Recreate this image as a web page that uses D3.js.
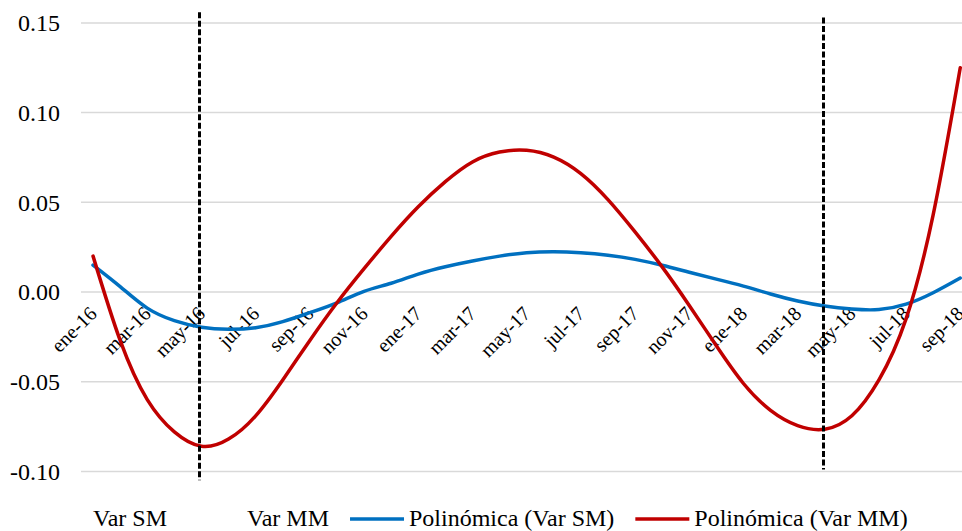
<!DOCTYPE html>
<html>
<head>
<meta charset="utf-8">
<script src="https://cdn.jsdelivr.net/npm/d3@7/dist/d3.min.js"></script>
<style>
  html, body { margin: 0; padding: 0; background: #fff; }
  svg { display: block; font-family: "Liberation Serif", "Times New Roman", serif; }
</style>
</head>
<body>
<svg id="chart" width="962" height="531"></svg>
<script>
// Categories: monthly, ene-16 .. sep-18
const monthNames = ['ene', 'feb', 'mar', 'abr', 'may', 'jun', 'jul', 'ago', 'sep', 'oct', 'nov', 'dic'];
const years = ['16', '17', '18'];
const months = [];
years.forEach(y => monthNames.forEach(m => months.push(`${m}-${y}`)));
const categories = months.slice(0, 33);

// Polinómica (Var SM) - blue trend
const polySM = [
  0.015, 0.003, -0.009, -0.016, -0.0197, -0.0208, -0.0199, -0.0165, -0.0115, -0.006,
  0.0004, 0.0049, 0.010, 0.0141, 0.0173, 0.0200, 0.0219, 0.0225, 0.0219, 0.0205,
  0.0182, 0.0149, 0.011, 0.0072, 0.0033, -0.0011, -0.0050, -0.0078, -0.0095, -0.0098,
  -0.0068, -0.0004, 0.0078
];

// Polinómica (Var MM) - red trend
const polyMM = [
  0.020, -0.027, -0.060, -0.078, -0.086, -0.082, -0.069, -0.049, -0.027, -0.006,
  0.013, 0.031, 0.0475, 0.0615, 0.0725, 0.078, 0.079, 0.0752, 0.066, 0.0515,
  0.0335, 0.014, -0.0075, -0.030, -0.051, -0.066, -0.0745, -0.0765, -0.069, -0.049,
  -0.015, 0.043, 0.125
];

// Vertical dashed markers
const markers = [
  { cat: 'may-16', top: 0.156, bottom: -0.105 },
  { cat: 'abr-18', top: 0.153, bottom: -0.099 }
];

const yTicks = [-0.10, -0.05, 0.00, 0.05, 0.10, 0.15];

const legendItems = [
  { label: 'Var SM', color: null },
  { label: 'Var MM', color: null },
  { label: 'Polinómica (Var SM)', color: '#0070c0' },
  { label: 'Polinómica (Var MM)', color: '#c00000' }
];

const svg = d3.select('#chart');

const x = d3.scalePoint()
  .domain(categories)
  .range([79.5, 973.8])
  .padding(0.5);

const y = d3.scaleLinear()
  .domain([-0.10, 0.15])
  .range([471.4, 22.9]);

const fmt = v => v.toFixed(2);

// Gridlines
svg.append('g')
  .selectAll('line')
  .data(yTicks)
  .enter()
  .append('line')
  .attr('x1', 81)
  .attr('x2', 962)
  .attr('y1', d => y(d))
  .attr('y2', d => y(d))
  .attr('stroke', '#d9d9d9')
  .attr('stroke-width', 1.5);

// Y labels
svg.append('g')
  .selectAll('text')
  .data(yTicks)
  .enter()
  .append('text')
  .attr('x', 60)
  .attr('y', d => y(d))
  .attr('dy', '0.35em')
  .attr('text-anchor', 'end')
  .style('font-size', '24px')
  .style('fill', '#000')
  .text(d => fmt(d));

// X labels (every other month) hanging under the zero line
svg.append('g')
  .selectAll('text')
  .data(categories.filter((d, i) => i % 2 === 0))
  .enter()
  .append('text')
  .attr('transform', d => `translate(${x(d)},${y(0) + 18}) rotate(-45)`)
  .attr('text-anchor', 'end')
  .attr('dy', '0.35em')
  .style('font-size', '20px')
  .style('fill', '#000')
  .text(d => d);

// Trend lines
const line = d3.line()
  .x((d, i) => x(categories[i]))
  .y(d => y(d))
  .curve(d3.curveNatural);

svg.append('path')
  .datum(polySM)
  .attr('d', line)
  .attr('fill', 'none')
  .attr('stroke', '#0070c0')
  .attr('stroke-width', 3.5)
  .attr('stroke-linecap', 'round');

svg.append('path')
  .datum(polyMM)
  .attr('d', line)
  .attr('fill', 'none')
  .attr('stroke', '#c00000')
  .attr('stroke-width', 3.5)
  .attr('stroke-linecap', 'round');

// Dashed markers
svg.append('g')
  .selectAll('line')
  .data(markers)
  .enter()
  .append('line')
  .attr('x1', d => Math.round(x(d.cat)) - 1.5)
  .attr('x2', d => Math.round(x(d.cat)) - 1.5)
  .attr('y1', d => y(d.top))
  .attr('y2', d => y(d.bottom))
  .attr('stroke', '#000')
  .attr('stroke-width', 3)
  .attr('stroke-dasharray', '6,2.5');

// Legend - each entry reserves a symbol slot even without a symbol
const legend = svg.append('g').attr('transform', 'translate(0,519)');
let lx = 34;
legendItems.forEach(item => {
  if (item.color) {
    legend.append('line')
      .attr('x1', lx)
      .attr('x2', lx + 54)
      .attr('y1', 0)
      .attr('y2', 0)
      .attr('stroke', item.color)
      .attr('stroke-width', 3.5);
  }
  const t = legend.append('text')
    .attr('x', lx + 59)
    .attr('y', 7)
    .style('font-size', '24px')
    .style('fill', '#000')
    .text(item.label);
  lx += 59 + t.node().getComputedTextLength() + 21;
});
</script>
</body>
</html>
